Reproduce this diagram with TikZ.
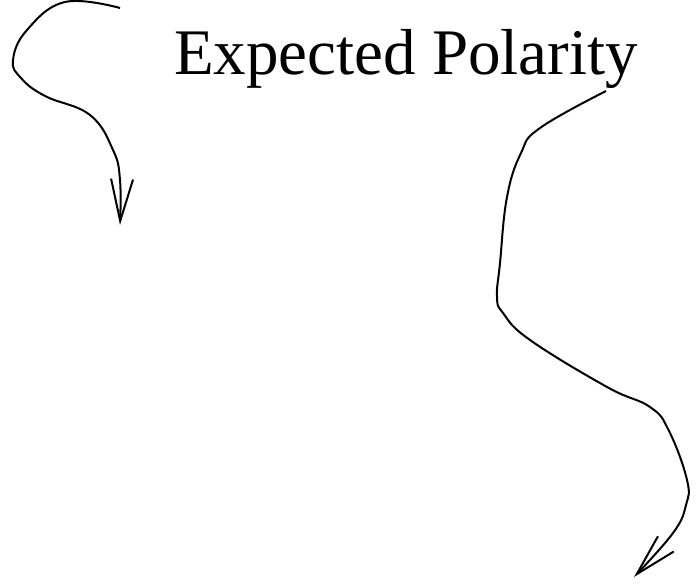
\documentclass[tikz,border=0pt]{standalone}
\usepackage{fontspec}
\setmainfont{Liberation Serif}
\usetikzlibrary{arrows.meta}

\begin{document}
\begin{tikzpicture}[
  x=1pt, y=1pt,
  lbl/.style={font=\fontsize{65}{70}\selectfont, inner sep=0pt, anchor=base},
  arr/.style={line width=2pt, line join=round,
              -{Straight Barb[length=42pt, width=22pt, line width=2pt]}}
]
\useasboundingbox (0,0) rectangle (700,583);

\node[lbl] (title) at (406,508) {Expected Polarity};

% left arrow
\coordinate (ls) at (120,575);
\coordinate (le) at (120,358);
\draw[arr] plot[smooth, tension=0.7] coordinates {(ls) (65,581) (27,553) (13,523)
  (21,505) (45,487) (90,468) (113,433) (120,403) (le)};

% right arrow
\coordinate (rs) at (606,492);
\coordinate (re) at (634,6);
\draw[arr] plot[smooth, tension=0.7] coordinates {(rs) (540,455) (521,430) (507,386)
  (500,320) (497,286) (503,270) (530,243) (607,196) (650,176) (669,152)
  (687,103) (686,78) (673,50) (re)};
\end{tikzpicture}
\end{document}
